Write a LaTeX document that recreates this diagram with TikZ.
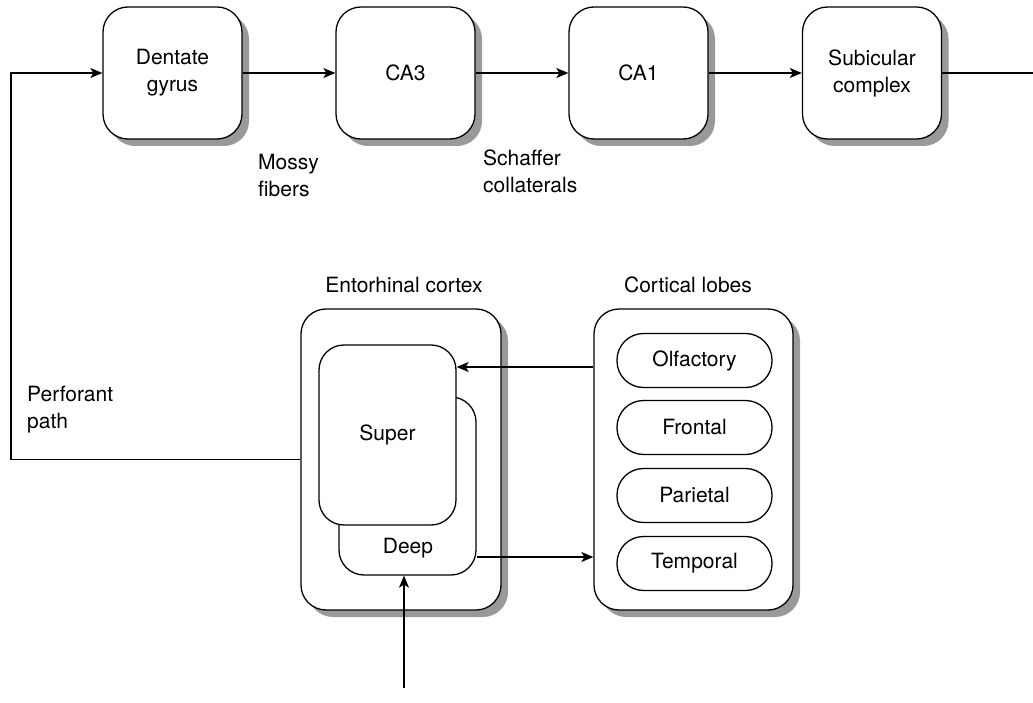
\documentclass[tikz,border=0pt]{standalone}
\usepackage{fontspec}
\setmainfont{TeX Gyre Heros}
\usetikzlibrary{arrows.meta,shadows}
\begin{document}
\begin{tikzpicture}[x=1pt,y=-1pt,
  every node/.style={font=\fontsize{21}{27}\selectfont, align=center},
  conn/.style={line width=1.3pt},
  arr/.style={conn,-{Stealth[length=12pt,width=10pt,inset=3pt]}},
  shad/.style={drop shadow={shadow xshift=7pt,shadow yshift=-7pt,fill=black!40,opacity=1}},
  region/.style={draw,line width=1.3pt,fill=white,rounded corners=25pt,shad},
  topbox/.style={region,minimum width=139pt,minimum height=132pt},
  layer/.style={draw,line width=1.3pt,fill=white,rounded corners=25pt,minimum width=137pt},
  lobe/.style={draw,line width=1.3pt,fill=white,rounded corners=26.5pt,minimum width=155pt,minimum height=54pt},
  lbl/.style={align=left,anchor=west,inner sep=0pt}
]
\useasboundingbox (0,0) rectangle (1033,703);

% top row
\node[topbox] (dg)  at (172.5,73) {Dentate\\gyrus};
\node[topbox] (ca3) at (405.5,73) {CA3};
\node[topbox] (ca1) at (638.5,73) {CA1};
\node[topbox] (sub) at (872,73)   {Subicular\\complex};
\coordinate (out) at (1033,73);

\draw[arr] (dg) -- (ca3);
\draw[arr] (ca3) -- (ca1);
\draw[arr] (ca1) -- (sub);
\draw[conn] (sub) -- (out);

\node[lbl] (mossy) at (258,176) {Mossy\\fibers};
\node[lbl] (schaffer) at (483,171) {Schaffer\\collaterals};

% entorhinal cortex
\node (entolbl) at (404,285) {Entorhinal cortex};
\node[region,minimum width=200pt,minimum height=301pt] (ento) at (401,459.5) {};
\node[layer,minimum height=178pt] (deep) at (407.5,486) {};
\node (deeptxt) at (408,548) {Deep};
\node[layer,minimum height=180pt] (super) at (387.5,435) {Super};

% cortical lobes
\node (cortlbl) at (688,285) {Cortical lobes};
\node[region,minimum width=199pt,minimum height=301pt] (cort) at (693.5,459.5) {};
\node[lobe] (olf) at (694.5,360.5) {Olfactory};
\node[lobe] (fro) at (694.5,427.5) {Frontal};
\node[lobe] (par) at (694.5,495.5) {Parietal};
\node[lobe] (tem) at (694.5,563.5) {Temporal};

% connectors
\coordinate (ya) at (0,367);
\coordinate (yb) at (0,557);
\draw[arr] (cort.west |- ya) -- (super.east |- ya);
\draw[arr] (deep.east |- yb) -- (cort.west |- yb);

\coordinate (pp) at (11,459.5);
\draw[arr] (ento.west) -- (pp) |- (dg.west);
\node[lbl] (perf) at (27,410) {Perforant\\path};

\coordinate (inp) at (404,688);
\draw[arr] (inp) -- (inp |- deep.south);
\end{tikzpicture}
\end{document}
